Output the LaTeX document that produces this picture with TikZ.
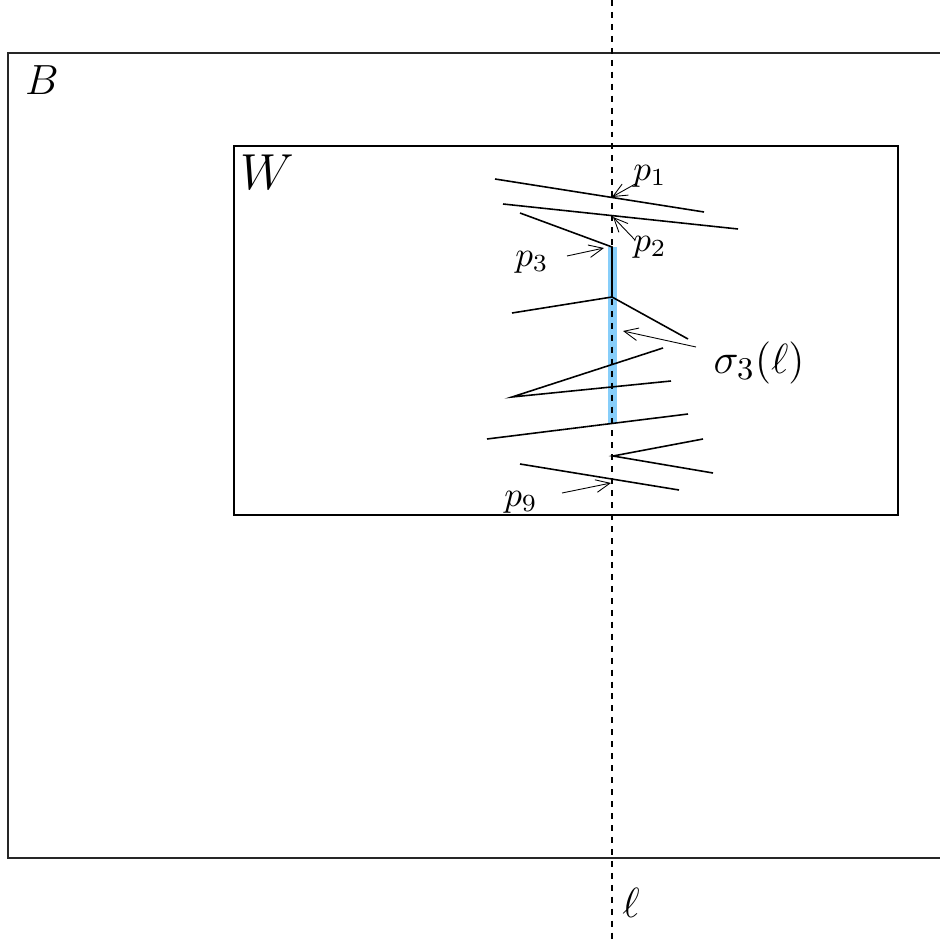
\documentclass[tikz,border=0pt]{standalone}
\usetikzlibrary{arrows.meta}
\definecolor{skyb}{RGB}{135,206,250}
\begin{document}
\begin{tikzpicture}[x=0.01cm,y=-0.01cm,
  seg/.style={line width=0.45pt,black},
  ptr/.style={line width=0.25pt,-{Straight Barb[length=4pt,width=3.6pt]}},
  lbl/.style={inner sep=0pt}]
\useasboundingbox (0,0) rectangle (940,940);
\clip (0,0) rectangle (940,940);
% boxes
\draw[line width=0.3pt,black!85] (8,53) rectangle (980,858);
\draw[line width=0.4pt] (234,146) rectangle (898,515);
% blue part
\fill[skyb] (607.5,247) rectangle (616.5,423);
% line l
\coordinate (ltop) at (612,0);
\coordinate (lbot) at (612,940);
\draw[line width=0.3pt,dash pattern=on 1.7pt off 1.7pt] (ltop) -- (lbot);
% segments
\coordinate (a1) at (495,179); \coordinate (b1) at (704,212);
\coordinate (a2) at (503,204); \coordinate (b2) at (738,229);
\coordinate (c3) at (520,213); \coordinate (q3) at (612,247);
\coordinate (q4) at (612,297); \coordinate (c4) at (512,313); \coordinate (c5) at (688,339);
\coordinate (c6) at (663,348); \coordinate (q6) at (512,397); \coordinate (c7) at (671,381);
\coordinate (a8) at (487,439); \coordinate (b8) at (688,414);
\coordinate (c9) at (703,439); \coordinate (q9) at (613,456); \coordinate (c10) at (713,473);
\coordinate (a11) at (520,464); \coordinate (b11) at (679,490);
\draw[seg] (a1) -- (b1);
\draw[seg] (a2) -- (b2);
\draw[seg] (c3) -- (q3) -- (q4) -- (c4);
\draw[seg] (q4) -- (c5);
\draw[seg] (c6) -- (q6) -- (c7);
\draw[seg] (a8) -- (b8);
\draw[seg] (c9) -- (q9) -- (c10);
\draw[seg] (a11) -- (b11);
% labels
\node[lbl] (B) at (42,80) {\fontsize{13}{15}\selectfont $B$};
\node[lbl] (W) at (267,172) {\fontsize{13.5}{15}\selectfont $W$};
\node[lbl] (ell) at (631,903) {\fontsize{13}{15}\selectfont $\ell$};
\node[lbl] (p1) at (650,176) {$p_1$};
\node[lbl] (p2) at (650,247) {$p_2$};
\node[lbl] (p3) at (532,262) {$p_3$};
\node[lbl] (p9) at (521,502) {$p_9$};
\node[lbl] (sig) at (759,363) {\fontsize{12.3}{15}\selectfont $\sigma_3(\ell)$};
% pointers
\coordinate (t1s) at (637,183); \coordinate (t1) at (612,197);
\coordinate (t2s) at (635,240); \coordinate (t2) at (613,217);
\coordinate (t3s) at (567,256); \coordinate (t3) at (604,248);
\coordinate (t9s) at (562,493); \coordinate (t9) at (611,483);
\coordinate (tss) at (696,347); \coordinate (ts) at (623,331);
\draw[ptr] (t1s) -- (t1);
\draw[ptr] (t2s) -- (t2);
\draw[ptr] (t3s) -- (t3);
\draw[ptr] (t9s) -- (t9);
\draw[ptr] (tss) -- (ts);
\end{tikzpicture}
\end{document}
